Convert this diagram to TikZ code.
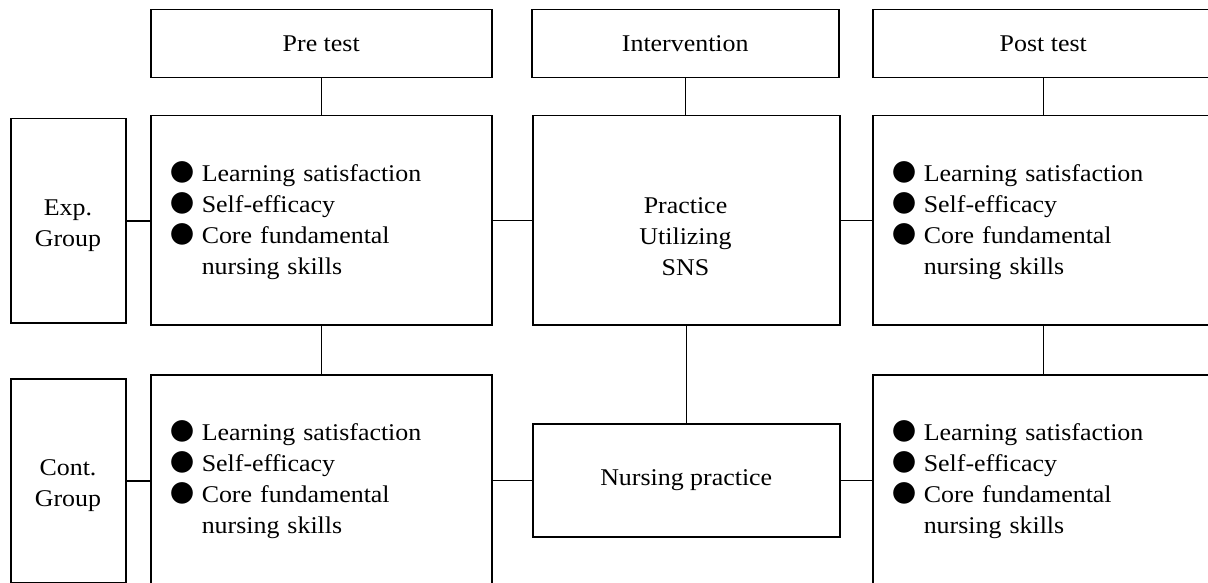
\documentclass[tikz,border=0pt]{standalone}
\usepackage{fontspec}
\setmainfont[FakeStretch=1.08]{Liberation Serif}
\newfontfamily\cjk{Noto Sans CJK KR}
\newcommand\bul{\makebox[31pt][l]{\cjk ●}}
\begin{document}
\begin{tikzpicture}[x=1pt,y=-1pt,
  every node/.style={font=\fontsize{24}{31}\selectfont},
  box/.style={draw, line width=1.5pt, inner sep=0pt, anchor=north west},
  itembox/.style={box, text width=301pt, inner xsep=20pt, minimum height=209pt, align=left},
  conn/.style={line width=1.5pt}]
\useasboundingbox (0,0) rectangle (1208,583);
\clip (0,0) rectangle (1208,583);
% header boxes
\node[box, minimum width=341pt, minimum height=68pt] (pre) at (150,9) {Pre test};
\node[box, minimum width=307pt, minimum height=68pt] (int) at (531,9) {Intervention};
\node[box, minimum width=341pt, minimum height=68pt] (post) at (872,9) {Post test};
% group boxes
\node[box, minimum width=115pt, minimum height=204pt] (exp) at (10,118) {};
\node[align=center] (exptext) at (68,226) {Exp.\\Group};
\node[box, minimum width=115pt, minimum height=204pt] (cont) at (10,378) {};
\node[align=center] (conttext) at (68,486) {Cont.\\Group};
% experimental row
\node[itembox] (prem) at (150,115) {\bul Learning satisfaction\\\bul Self-efficacy\\\bul Core fundamental\\\hspace*{31pt}nursing skills};
\node[box, minimum width=307pt, minimum height=209pt] (intm) at (532,115) {};
\node[align=center] (intmtext) at (685.5,237) {Practice\\Utilizing\\SNS};
\node[itembox] (postm) at (872,115) {\bul Learning satisfaction\\\bul Self-efficacy\\\bul Core fundamental\\\hspace*{31pt}nursing skills};
% control row
\node[itembox] (prec) at (150,374) {\bul Learning satisfaction\\\bul Self-efficacy\\\bul Core fundamental\\\hspace*{31pt}nursing skills};
\node[box, minimum width=307pt, minimum height=113pt] (nurs) at (532,423) {Nursing practice};
\node[itembox] (postc) at (872,374) {\bul Learning satisfaction\\\bul Self-efficacy\\\bul Core fundamental\\\hspace*{31pt}nursing skills};
% connectors
\draw[conn] (pre.south) -- (prem.north);
\draw[conn] (int.south) -- (int.south |- intm.north);
\draw[conn] (post.south) -- (postm.north);
\draw[conn] (exp.east) -- (exp.east -| prem.west);
\draw[conn] (prem.east) -- (prem.east -| intm.west);
\draw[conn] (intm.east) -- (intm.east -| postm.west);
\draw[conn] (prem.south) -- (prec.north);
\draw[conn] (intm.south) -- (nurs.north);
\draw[conn] (postm.south) -- (postc.north);
\draw[conn] (cont.east) -- (cont.east -| prec.west);
\draw[conn] (nurs.west) -- (nurs.west -| prec.east);
\draw[conn] (nurs.east) -- (nurs.east -| postc.west);
\end{tikzpicture}
\end{document}
